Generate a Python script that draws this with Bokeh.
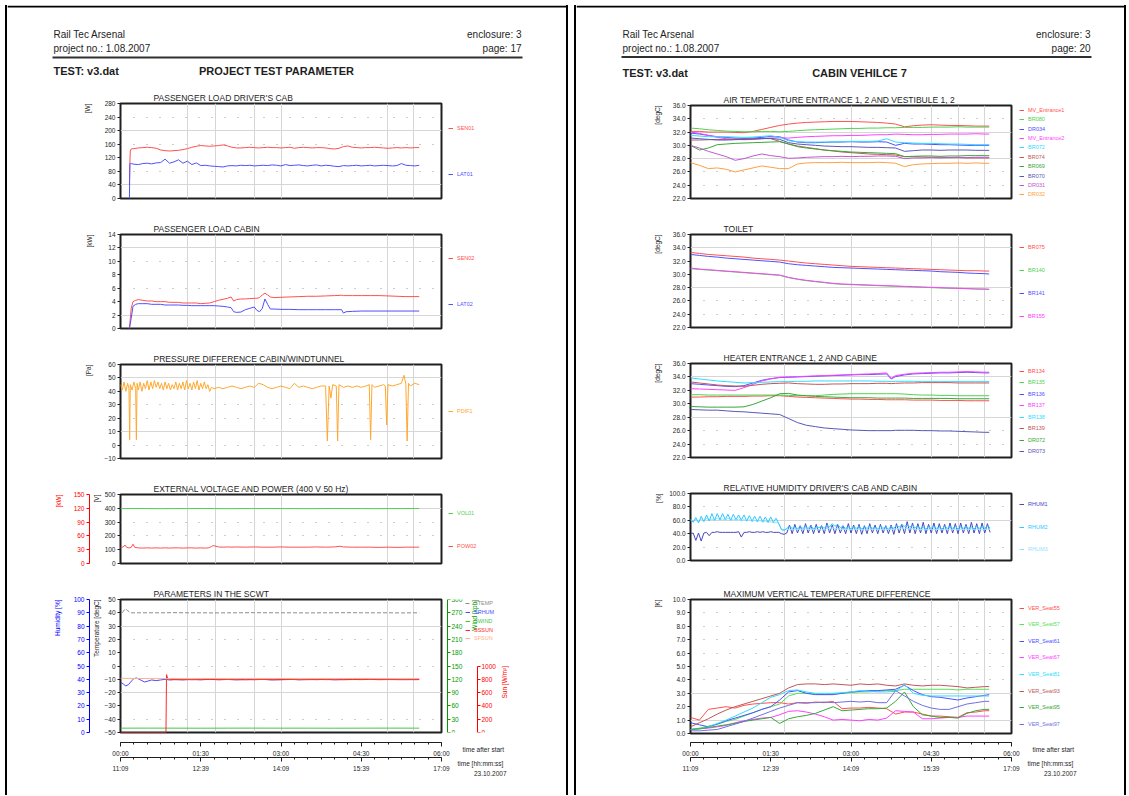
import math
from bokeh.plotting import figure
from bokeh.models import (Range1d, LinearAxis, FixedTicker, Grid, Legend, LegendItem,
                          Label, Div, PrintfTickFormatter, Spacer, Title, BoxAnnotation)
from bokeh.layouts import row, column
from bokeh.embed import file_html
from bokeh.resources import INLINE
from bokeh.core.properties import value

FONT = "Liberation Sans"
INK = "#1e1e1e"
NAN = float("nan")

# ---------------- texts ----------------
COMPANY = "Rail Tec Arsenal"
PROJECT = "project no.: 1.08.2007"
ENCLOSURE = "enclosure: 3"
PAGE_L = "page: 17"
PAGE_R = "page: 20"
TEST = "TEST: v3.dat"
HEAD_L = "PROJECT TEST PARAMETER"
HEAD_R = "CABIN VEHILCE 7"
TIME_AFTER = ["00:00", "01:30", "03:00", "04:30", "06:00"]
TIME_CLOCK = ["11:09", "12:39", "14:09", "15:39", "17:09"]
TICK_MIN = [0, 90, 180, 270, 360]
DATE = "23.10.2007"

# ---------------- left page data (time in minutes after start) ----------------
T_DRV = [10, 10.5, 11, 12, 15, 20, 25, 30, 35, 40, 45, 50, 55, 60, 65, 70, 75, 80, 85, 90,
         95, 100, 105, 110, 115, 120, 125, 130, 135, 140, 145, 150, 155, 160, 165, 170, 175,
         180, 185, 190, 195, 200, 205, 210, 215, 220, 225, 230, 235, 240, 245, 250, 255, 260,
         265, 270, 275, 280, 285, 290, 295, 300, 305, 310, 315, 320, 325, 330, 335]
SEN01 = [40, 105, 140, 146,
         147, 149, 150, 151, 150, 148,
         143, 141, 140, 141, 142, 144,
         147, 151, 154, 156, 155,
         154, 155, 156, 158, 155,
         151, 149, 149, 150,
         151, 150, 149, 150, 151, 150, 150, 149, 150, 151, 148, 150, 151, 150, 149, 150, 150, 149, 147, 146,
         148, 153, 155, 151, 150,
         149, 150, 150, 151, 150, 149, 148, 149, 150, 149, 150, 149, 150, 150]
LAT01 = [0, 100, 104, 103,
         101, 100, 103, 104, 102, 105,
         106, 116, 104, 108, 114, 104,
         110, 100, 105, 97, 98,
         96, 95, 94, 93, 96,
         97, 96, 98, 97,
         98, 96, 97, 98, 97, 99, 98, 96, 100, 97, 98, 99, 97, 96, 98, 99, 96, 98, 97, 95,
         94, 97, 96, 97, 98,
         96, 97, 98, 96, 97, 98, 97, 96, 97, 103, 98, 97, 96, 98]

T_CAB = [10, 12, 14, 17, 20, 25, 30, 35, 40, 45, 50, 55, 60, 65, 70, 75, 80, 85, 90, 95, 100,
         105, 110, 115, 120, 124, 127, 130, 135, 140, 145, 150, 153, 156, 159, 162, 165, 168,
         172, 180, 190, 200, 210, 220, 230, 240, 248, 250, 253, 260, 270, 280, 290, 300, 310,
         320, 335]
SEN02 = [0, 3.0, 4.0, 4.2,
         4.3, 4.2, 4.1, 4.1, 4.0, 4.0, 4.0, 3.9, 3.9, 3.9, 3.8, 3.8, 3.8, 3.8, 3.7, 3.75, 3.8, 4.0, 4.2, 4.35, 4.5,
         4.7, 4.1, 4.3,
         4.4, 4.4, 4.45, 4.5,
         4.5, 4.6, 5.0, 5.25, 5.0, 4.7, 4.6,
         4.65, 4.7, 4.75, 4.8, 4.8, 4.85, 4.9,
         4.95, 4.9, 4.9,
         4.9, 4.9, 4.9, 4.9, 4.85, 4.8, 4.75,
         4.75]
LAT02 = [0, 1.5, 3.3, 3.6,
         3.7, 3.7, 3.7, 3.6, 3.6, 3.6, 3.5, 3.5, 3.5, 3.5, 3.45, 3.45, 3.4, 3.4, 3.4, 3.4, 3.4, 3.4, 3.35, 3.3, 3.2,
         3.1, 2.5, 2.4,
         2.45, 2.8, 3.0, 3.2,
         2.7, 2.5, 3.0, 4.4, 3.6, 2.9, 2.9,
         2.85, 2.85, 2.8, 2.8, 2.8, 2.8, 2.8,
         2.8, 2.3, 2.5,
         2.55, 2.6, 2.6, 2.6, 2.6, 2.6, 2.6,
         2.6]

T_PDIF = [0, 2, 4, 6, 8, 9.5, 10.3, 11, 13, 15, 17, 17.8, 18.6,
          20, 22, 24, 26, 28, 30, 32, 34, 36, 38, 40, 42, 44, 46, 48, 50, 52, 54, 56, 58,
          60, 62, 64, 66, 68, 70, 72, 74, 76, 78, 80, 82, 84, 86, 88, 90, 92, 94, 96, 98, 100,
          102, 105,
          110, 115, 120, 125, 130, 135, 140, 145, 150, 155, 160, 165, 170, 175, 180, 185, 190,
          195, 200, 205, 210, 215, 220, 225, 230,
          232, 234, 236, 238, 242, 243.5, 245,
          250, 255, 260, 265, 270, 275,
          279, 280.5, 282, 285, 290, 295, 297, 298.5, 300, 305, 310, 315,
          318, 320, 321.5, 323, 325, 330, 335]
PDIF1 = [45, 41, 47, 40, 46, 42, 4, 45, 41, 47, 42, 4, 46,
         41, 47, 40, 46, 42, 48, 41, 47, 42, 48, 43, 47, 42, 46, 41, 47, 42, 46, 41, 45,
         42, 47, 41, 46, 42, 47, 41, 48, 42, 46, 41, 47, 42, 48, 41, 46, 42, 47, 42, 45, 40,
         43, 42,
         43, 42, 43, 44, 43, 42, 43, 44, 43, 46, 45, 43, 42, 43, 44, 43, 42,
         46, 43, 44, 43, 42, 43, 44, 44,
         3, 44, 35, 45, 44, 3, 45,
         43, 44, 43, 44, 43, 44,
         45, 4, 45, 43, 44, 45, 44, 15, 45, 44, 45, 46,
         52, 45, 3, 46, 44, 46, 45]

T_VOL = [0, 15, 30, 45, 60, 75, 90, 105, 120, 135, 150, 165, 180, 195, 210, 225, 240, 255,
         270, 285, 300, 315, 330, 335]
VOL01 = [398, 399, 398, 397, 398, 398, 399, 398, 397, 398, 398, 399, 398, 398, 397, 398,
         399, 398, 398, 397, 398, 398, 399, 398]

T_POW = [0, 3, 5, 7, 10, 12, 14, 16, 20, 25, 30, 35, 40, 45, 50, 55, 60, 65, 70, 75, 80, 85,
         90, 95, 99, 102, 104, 106, 110, 115, 120, 125, 130, 140, 150, 160, 170, 180, 190,
         200, 210, 220, 230, 240, 246, 250, 260, 270, 280, 290, 300, 310, 320, 335]
POW02 = [35, 36, 40, 35, 34, 35, 42, 35,
         34, 33.5, 34, 33.5, 34, 33.5, 34, 33.5, 34, 34, 33.5, 34, 34, 33.5, 34, 33.5,
         34, 37, 39, 38,
         36, 35.5, 36, 35.5, 36,
         35.5, 36, 35.5, 35.5, 36, 35.5, 35.5, 35.5, 36, 35.5, 36,
         37.5, 36,
         35.5, 35.5, 35.5, 35, 35.5, 35, 35.5,
         35.5]

T_STEMP = [2, 4, 6, 8, 12, 20, 30, 45, 60, 75, 90, 105, 120, 135, 150, 165, 180, 195, 210,
           225, 240, 255, 270, 285, 300, 315, 330, 335]
STEMP = [40, 42, 43, 41.5, 40, 40,
         40, 40, 40.1, 40, 40, 39.9, 40, 40, 40.1, 40, 40, 40, 39.9, 40, 40, 40.1, 40, 40, 40, 39.9, 40,
         40]

T_SRHUM = [0, 3, 6, 9, 12, 15, 18, 21, 24, 27, 30, 35, 40, 45, 50, 55, 60, 70, 80, 90, 100,
           110, 120, 130, 140, 150, 160, 170, 180, 190, 200, 210, 220, 230, 240, 250, 260,
           270, 280, 290, 300, 310, 320, 330, 335]
SRHUM = [38, 36.5, 35, 36, 38.5, 40.5, 41, 40, 39, 38, 38.5,
         39.5, 39, 39.5, 40, 39.5,
         39.8, 39.5, 40, 39.6, 40, 39.7, 39.9, 39.6, 40, 39.7,
         39.9, 39.5, 39.8, 40.1, 39.6, 39.9, 39.7, 40, 39.6, 39.9,
         39.8, 40.1, 40.2, 39.9, 40.1, 39.8, 39.7, 39.9,
         39.9]

T_SWIND = [0, 30, 60, 90, 120, 150, 180, 210, 240, 270, 300, 330, 335]
SWIND = [9.8, 9.9, 9.8, 9.7, 9.8, 9.9, 9.8, 9.8, 9.7, 9.8, 9.9, 9.8, 9.8]

T_SSSUN = [0, 51, 51.6, 53, 56, 60, 70, 80, 90, 100, 110, 120, 130, 140, 150, 160, 170, 180,
           190, 200, 210, 220, 230, 240, 250, 260, 270, 280, 290, 300, 310, 320, 330, 335]
SSSUN = [0, 0, 870, 810, 795,
         795, 798, 793, 796, 799, 794, 797, 795, 792, 796, 798, 795, 793, 797,
         796, 794, 798, 795, 796, 793, 797, 795, 799, 794, 796, 795, 797, 794,
         795]

T_SFSUN = [0, 20, 40, 60, 80, 100, 120, 140, 160, 180, 200, 220, 240, 260, 280, 300, 320, 335]
SFSUN = [815, 812, 810, 811, 809, 812, 810, 811, 810, 812, 809, 811, 810, 812, 811, 810, 809, 811]

# ---------------- right page data ----------------
T_R = [0, 10, 20, 30, 40, 50, 60, 70, 80, 90, 100, 110, 120, 130, 140, 150, 160, 170, 180,
       190, 200, 210, 220, 230, 240, 250, 260, 270, 280, 290, 300, 310, 320, 330, 335]

AIR_NAMES = ["MV_Entrance1", "BR080", "DR034", "MV_Entrance2", "BR072", "BR074", "BR069",
             "BR070", "DR031", "DR032"]
MV_ENTRANCE1 = [32.1, 32.1, 32.0, 32.0, 32.0, 31.95, 31.9, 32.1, 32.4, 32.7,
                33.0, 33.2, 33.35, 33.45, 33.5, 33.55, 33.6, 33.6, 33.6, 33.55,
                33.5, 33.45, 33.35, 33.2, 32.8, 32.95, 33.05, 33.1, 33.05, 33.0,
                33.0, 32.95, 32.9, 32.9, 32.9]
BR080 = [32.6, 32.5, 32.35, 32.25, 32.15, 32.1, 32.05, 32.05, 32.1, 32.1,
         32.05, 32.1, 32.2, 32.3, 32.35, 32.4, 32.45, 32.5, 32.55, 32.55,
         32.6, 32.6, 32.65, 32.65, 32.7, 32.7, 32.7, 32.75, 32.75, 32.75,
         32.8, 32.75, 32.75, 32.75, 32.75]
DR034 = [31.85, 31.7, 31.5, 31.3, 31.2, 31.1, 31.05, 31.1, 31.2, 31.35,
         31.3, 30.8, 30.5, 30.4, 30.4, 30.45, 30.5, 30.5, 30.55, 30.5,
         30.5, 30.55, 30.5, 30.0, 30.3, 30.2, 30.2, 30.15, 30.1, 30.1,
         30.05, 30.0, 30.0, 30.0, 30.0]
MV_ENTRANCE2 = [32.0, 31.8, 31.5, 31.2, 31.0, 30.9, 30.85, 30.9, 31.0, 31.1,
                31.15, 31.1, 31.2, 31.3, 31.35, 31.4, 31.45, 31.45, 31.5, 31.5,
                31.55, 31.6, 31.6, 31.7, 31.65, 31.6, 31.6, 31.65, 31.65, 31.7,
                31.7, 31.7, 31.75, 31.7, 31.7]
BR072 = [31.5, 31.4, 31.3, 31.3, 31.3, 31.25, 31.2, 31.25, 31.35, 31.45,
         31.2, 30.7, 30.55, 30.5, 30.5, 30.5, 30.5, 30.55, 30.6, 30.6,
         30.6, 30.65, 31.0, 30.5, 30.4, 30.35, 30.3, 30.3, 30.25, 30.2,
         30.2, 30.15, 30.1, 30.1, 30.1]
BR074 = [30.8, 30.8, 30.85, 30.9, 30.9, 30.95, 30.95, 31.0, 31.05, 31.0,
         30.6, 30.2, 29.9, 29.7, 29.5, 29.3, 29.15, 29.0, 28.9, 28.8,
         28.7, 28.65, 28.6, 28.55, 28.3, 28.3, 28.25, 28.2, 28.2, 28.15,
         28.15, 28.1, 28.1, 28.1, 28.1]
BR069 = [30.0, 29.3, 29.6, 30.1, 30.2, 30.3, 30.35, 30.4, 30.45, 30.5,
         30.55, 30.2, 29.8, 29.6, 29.45, 29.3, 29.2, 29.1, 29.0, 28.95,
         28.9, 28.85, 28.8, 28.75, 28.3, 28.35, 28.4, 28.4, 28.35, 28.4,
         28.4, 28.45, 28.45, 28.45, 28.45]
BR070 = [31.1, 31.0, 30.9, 30.8, 30.8, 30.85, 30.9, 30.95, 31.0, 31.05,
         30.9, 30.4, 30.2, 30.1, 30.0, 29.9, 29.85, 29.8, 29.8, 29.75,
         29.7, 29.7, 29.65, 29.6, 29.1, 29.2, 29.3, 29.3, 29.25, 29.3,
         29.3, 29.3, 29.25, 29.25, 29.25]
DR031 = [30.0, 29.6, 29.1, 28.7, 28.3, 27.75, 28.0, 28.4, 28.7, 28.45,
         28.3, 28.05, 28.1, 28.2, 28.25, 28.3, 28.3, 28.35, 28.3, 28.35,
         28.35, 28.4, 28.4, 28.35, 28.0, 28.1, 28.1, 28.15, 28.1, 28.15,
         28.2, 28.15, 28.2, 28.2, 28.2]
DR032 = [27.4, 27.0, 26.5, 26.6, 26.4, 26.0, 26.3, 26.6, 26.9, 26.7,
         26.5, 26.5, 27.2, 27.35, 27.4, 27.4, 27.4, 27.45, 27.4, 27.4,
         27.4, 27.45, 27.4, 27.3, 26.8, 27.1, 27.2, 27.25, 27.3, 27.3,
         27.35, 27.3, 27.35, 27.3, 27.3]

TOILET_NAMES = ["BR075", "BR140", "BR141", "BR155"]
BR075 = [33.3, 33.15, 33.0, 32.9, 32.8, 32.7, 32.6, 32.45, 32.35, 32.25,
         32.15, 32.0, 31.85, 31.7, 31.6, 31.5, 31.4, 31.3, 31.2, 31.15,
         31.1, 31.05, 31.0, 30.95, 30.9, 30.85, 30.8, 30.75, 30.7, 30.65,
         30.6, 30.55, 30.55, 30.5, 30.5]
BR140 = [30.85, 30.75, 30.65, 30.55, 30.45, 30.35, 30.25, 30.15, 30.05, 29.95,
         29.85, 29.5, 29.25, 29.05, 28.9, 28.75, 28.6, 28.5, 28.45, 28.4,
         28.35, 28.3, 28.25, 28.2, 28.15, 28.1, 28.05, 28.0, 27.95, 27.9,
         27.9, 27.85, 27.8, 27.75, 27.75]
BR141 = [33.0, 32.85, 32.7, 32.6, 32.45, 32.35, 32.25, 32.15, 32.05, 31.95,
         31.85, 31.6, 31.45, 31.35, 31.25, 31.15, 31.05, 31.0, 30.95, 30.9,
         30.85, 30.8, 30.75, 30.7, 30.65, 30.6, 30.55, 30.5, 30.4, 30.35,
         30.3, 30.2, 30.15, 30.1, 30.05]
BR155 = [30.95, 30.8, 30.7, 30.6, 30.5, 30.4, 30.3, 30.2, 30.1, 30.0,
         29.9, 29.55, 29.3, 29.1, 28.95, 28.8, 28.65, 28.55, 28.5, 28.45,
         28.4, 28.35, 28.3, 28.25, 28.2, 28.15, 28.1, 28.05, 28.0, 27.95,
         27.9, 27.85, 27.8, 27.8, 27.75]

T_HEAT = [0, 10, 20, 30, 40, 50, 60, 70, 80, 90, 100, 110, 120, 130, 140, 150, 160, 170, 180,
          190, 200, 210, 220, 225, 230, 240, 250, 260, 270, 280, 290, 300, 310, 320, 330, 335]
HEAT_NAMES = ["BR134", "BR135", "BR136", "BR137", "BR138", "BR139", "DR072", "DR073"]
BR134 = [31.0, 31.0, 31.05, 31.05, 31.1, 31.1, 31.1, 31.15, 31.15, 31.2,
         31.2, 31.1, 31.0, 30.95, 30.9, 30.85, 30.8, 30.75, 30.7, 30.7,
         30.65, 30.65, 30.6, 30.6, 30.6, 30.6, 30.55, 30.55, 30.55, 30.5,
         30.5, 30.5, 30.45, 30.45, 30.45, 30.45]
BR135 = [31.35, 31.35, 31.3, 31.3, 31.3, 31.3, 31.3, 31.3, 31.3, 31.3,
         31.3, 31.25, 31.2, 31.2, 31.2, 31.3, 31.4, 31.45, 31.5, 31.5,
         31.5, 31.5, 31.5, 31.5, 31.5, 31.45, 31.35, 31.3, 31.3, 31.25,
         31.25, 31.2, 31.2, 31.2, 31.2, 31.2]
BR136 = [33.0, 32.9, 32.8, 32.7, 32.6, 32.55, 32.7, 33.1, 33.5, 33.75,
         33.9, 33.95, 34.0, 34.05, 34.1, 34.15, 34.2, 34.25, 34.3, 34.35,
         34.35, 34.4, 34.45, 33.7, 34.05, 34.3, 34.45, 34.5, 34.55, 34.6,
         34.6, 34.65, 34.7, 34.65, 34.6, 34.6]
BR137 = [32.25, 32.2, 32.15, 32.1, 32.05, 32.0, 32.4, 32.9, 33.4, 33.7,
         33.95, 34.0, 34.05, 34.1, 34.15, 34.2, 34.25, 34.3, 34.35, 34.4,
         34.45, 34.5, 34.6, 33.8, 34.2, 34.4, 34.55, 34.6, 34.65, 34.7,
         34.7, 34.75, 34.8, 34.75, 34.7, 34.7]
BR138 = [33.85, 33.7, 33.55, 33.4, 33.3, 33.2, 33.1, 33.15, 33.2, 33.25,
         33.3, 33.3, 33.35, 33.35, 33.4, 33.4, 33.4, 33.4, 33.4, 33.4,
         33.4, 33.35, 33.35, 33.3, 33.35, 33.35, 33.35, 33.3, 33.3, 33.3,
         33.3, 33.3, 33.3, 33.3, 33.3, 33.3]
BR139 = [33.25, 33.1, 32.95, 32.8, 32.7, 32.65, 32.6, 32.75, 32.9, 33.0,
         33.05, 33.1, 33.0, 32.95, 32.9, 32.9, 32.95, 32.95, 33.0, 33.0,
         33.0, 33.05, 33.05, 33.0, 33.05, 33.1, 33.1, 33.15, 33.15, 33.15,
         33.15, 33.1, 33.1, 33.1, 33.1, 33.1]
DR072 = [29.6, 29.55, 29.5, 29.5, 29.5, 29.5, 29.55, 29.9, 30.4, 30.9,
         31.5, 31.55, 31.3, 31.2, 31.1, 31.05, 31.0, 30.95, 30.9, 30.9,
         30.9, 30.85, 30.85, 30.85, 30.85, 30.85, 30.8, 30.8, 30.8, 30.8,
         30.8, 30.75, 30.75, 30.75, 30.75, 30.75]
DR073 = [29.15, 29.1, 29.05, 29.05, 28.95, 28.85, 28.8, 28.7, 28.6, 28.5,
         28.4, 27.8, 27.2, 26.8, 26.6, 26.4, 26.3, 26.2, 26.1, 26.05,
         26.0, 26.0, 26.0, 26.0, 26.05, 26.05, 26.05, 26.0, 26.0, 25.95,
         25.95, 25.9, 25.85, 25.8, 25.75, 25.75]

T_RH = [0, 3, 6, 9, 12, 15, 18, 21, 24, 27,
        30, 33, 36, 39, 42, 45, 48, 51, 54, 57,
        60, 63, 66, 69, 72, 75, 78, 81, 84, 87,
        90, 93, 96, 99, 102, 105, 108, 111, 114, 117,
        120, 123, 126, 129, 132, 135, 138, 141, 144, 147,
        150, 153, 156, 159, 162, 165, 168, 171, 174, 177,
        180, 183, 186, 189, 192, 195, 198, 201, 204, 207,
        210, 213, 216, 219, 222, 225, 228, 231, 234, 237,
        240, 243, 246, 249, 252, 255, 258, 261, 264, 267,
        270, 273, 276, 279, 282, 285, 288, 291, 294, 297,
        300, 303, 306, 309, 312, 315, 318, 321, 324, 327,
        330, 333, 336]
RH_NAMES = ["RHUM1", "RHUM2", "RHUM3"]
RHUM1 = [40, 41, 30, 41, 29, 41, 42, 37, 42, 42,
         43, 42, 42, 42, 42, 42, 42, 42, 43, 35,
         42, 42, 43, 42, 42, 43, 42, 43, 42, 42,
         43, 42, 42, 42, 40, 39, 41, 53, 40, 54,
         41, 52, 40, 55, 41, 53, 40, 54, 41, 52,
         40, 56, 41, 53, 40, 54, 41, 52, 40, 55,
         41, 53, 40, 54, 39, 52, 40, 55, 41, 53,
         40, 54, 41, 52, 40, 53, 39, 55, 41, 54,
         40, 58, 41, 56, 40, 55, 41, 57, 40, 54,
         41, 56, 40, 55, 41, 54, 40, 56, 41, 55,
         40, 56, 41, 54, 40, 57, 41, 55, 40, 56,
         41, 55, 42]
RHUM2 = [62, 57, 64, 56, 66, 58, 68, 59, 70, 60,
         70, 61, 70, 61, 69, 60, 69, 61, 68, 60,
         68, 59, 67, 59, 66, 58, 66, 58, 65, 57,
         65, 57, 63, 55, 46, 45, 48, 51, 48, 50,
         47, 51, 48, 50, 48, 52, 47, 50, 49, 51,
         48, 53, 50, 55, 51, 54, 49, 51, 48, 50,
         47, 50, 48, 51, 47, 50, 48, 51, 48, 50,
         47, 51, 48, 50, 47, 51, 48, 52, 50, 53,
         51, 53, 50, 52, 49, 51, 48, 50, 47, 50,
         48, 51, 48, 50, 47, 51, 48, 50, 48, 51,
         47, 50, 48, 51, 48, 50, 47, 51, 48, 50,
         48, 51, 49]
RHUM3 = [60, 59, 61, 58, 62, 59, 63, 60, 62, 60,
         63, 61, 62, 60, 63, 61, 62, 60, 62, 59,
         61, 59, 61, 58, 60, 58, 60, 57, 59, 57,
         58, 56, 57, 55, 47, 46, 46, 47, 46, 47,
         46, 47, 46, 48, 46, 47, 46, 47, 46, 47,
         46, 48, 47, 49, 47, 48, 46, 47, 46, 47,
         46, 47, 46, 47, 46, 47, 46, 47, 46, 47,
         46, 47, 46, 47, 46, 47, 46, 48, 47, 49,
         47, 48, 47, 48, 46, 47, 46, 47, 46, 47,
         46, 47, 46, 47, 46, 47, 46, 47, 46, 47,
         46, 47, 46, 47, 46, 47, 46, 47, 46, 47,
         46, 47, 46]

VER_NAMES = ["VER_Seat55", "VER_Seat57", "VER_Seat61", "VER_Seat67", "VER_Seat81",
             "VER_Seat93", "VER_Seat95", "VER_Seat97"]
SEAT55 = [1.2, 1.0, 1.8, 1.9, 2.0, 1.9, 2.1, 2.2, 2.25, 2.3,
          2.3, 2.2, 2.3, 2.25, 2.35, 2.3, 2.4, 1.85, 1.9, 1.9,
          1.95, 1.9, 1.85, 1.45, 1.6, 1.6, 1.45, 1.3, 1.3, 1.25,
          1.2, 1.55, 1.6, 1.7, 1.7]
SEAT57 = [0.3, 0.4, 0.55, 0.7, 0.9, 1.05, 1.3, 1.55, 1.8, 2.0,
          2.2, 2.8, 3.0, 3.0, 2.95, 2.9, 2.95, 3.0, 3.05, 3.1,
          3.1, 3.15, 3.2, 3.2, 3.3, 3.3, 3.3, 3.3, 3.3, 3.3,
          3.25, 3.3, 3.3, 3.3, 3.3]
SEAT61 = [0.8, 0.65, 0.5, 0.7, 0.95, 1.15, 1.35, 1.55, 1.8, 2.0,
          2.5, 3.1, 3.2, 3.0, 2.9, 2.9, 2.9, 3.0, 3.1, 3.15,
          3.2, 3.2, 3.25, 3.3, 3.6, 3.2, 2.9, 2.75, 2.7, 2.6,
          2.5, 2.65, 2.75, 2.85, 2.9]
SEAT67 = [0.3, 0.35, 0.4, 0.5, 0.6, 0.8, 0.95, 1.05, 1.15, 1.2,
          1.4, 1.65, 1.7, 1.6, 1.45, 1.25, 1.0, 1.05, 1.0, 0.95,
          1.05, 1.0, 1.15, 1.7, 1.65, 1.6, 1.1, 1.1, 1.15, 1.2,
          1.2, 1.3, 1.3, 1.3, 1.3]
SEAT81 = [0.3, 0.35, 0.5, 0.75, 1.0, 1.3, 1.6, 1.9, 2.3, 2.7,
          2.9, 3.2, 3.25, 3.1, 3.0, 3.0, 3.0, 3.05, 3.1, 3.2,
          3.15, 3.1, 3.1, 3.15, 3.65, 3.0, 2.85, 2.8, 2.8, 2.8,
          2.8, 2.8, 2.8, 2.8, 2.8]
SEAT93 = [0.5, 0.8, 1.1, 1.45, 1.75, 2.0, 2.2, 2.4, 2.6, 2.8,
          3.0, 3.4, 3.65, 3.7, 3.7, 3.65, 3.7, 3.65, 3.6, 3.7,
          3.65, 3.7, 3.6, 3.55, 3.7, 3.6, 3.55, 3.6, 3.6, 3.55,
          3.5, 3.4, 3.45, 3.5, 3.5]
SEAT95 = [0.3, 0.35, 0.45, 0.55, 0.65, 0.75, 0.9, 1.0, 1.1, 1.2,
          0.75, 1.1, 1.25, 1.35, 1.5, 1.75, 2.0, 1.7, 1.75, 1.8,
          1.85, 1.85, 1.9, 2.4, 3.1, 2.0, 1.4, 1.3, 1.2, 1.2,
          1.15, 1.5, 1.7, 1.8, 1.8]
SEAT97 = [0.2, 0.2, 0.25, 0.3, 0.5, 0.7, 0.9, 1.15, 1.4, 1.65,
          1.9, 2.1, 2.3, 2.3, 2.3, 2.35, 2.3, 2.35, 2.4, 2.35,
          2.4, 2.3, 2.3, 3.2, 2.8, 2.4, 2.1, 1.9, 1.8, 1.8,
          2.0, 2.2, 2.3, 2.4, 2.4]

# ---------------- colours ----------------
RED = "#ff5050"
BLUE = "#5050ff"
GREEN = "#4fd24f"
MAGENTA = "#ff40ff"
CYAN = "#2fdcff"
BROWN = "#c05858"
GREEN2 = "#38a838"
SLATE = "#5858b8"
PURPLE = "#c058d0"
ORANGE = "#ffa040"

# ---------------- geometry (window pixels) ----------------
K = 321 / 360.0            # pixels per minute on the time axis
LX0, LX1 = 7, 566          # left page content
RX0, RX1 = 576, 1124       # right page content
LFL, LFR = 120, 441        # left page chart frames
RFL, RFR = 690, 1011       # right page chart frames
VX_L = [75, 106, 150, 180, 299, 329]
VX_R = [105, 180, 270, 300, 330]


def base_fig(width, height, xr, yr, **kw):
    p = figure(width=width, height=height, x_range=xr, y_range=yr,
               x_axis_type=None, y_axis_type=None, toolbar_location=None,
               output_backend="svg", **kw)
    p.background_fill_color = "white"
    p.border_fill_color = "white"
    return p


def make_chart(x0, fl, fr, band, frame_y, ylim, title):
    bt, bb = band
    ft, fb = frame_y
    p = base_fig(fr + 2 - x0, bb - bt, Range1d(0, 360), Range1d(*ylim),
                 min_border_left=fl - x0, min_border_right=2,
                 min_border_top=ft - bt, min_border_bottom=bb - fb, title=title)
    p.outline_line_color = "#202020"
    p.outline_line_width = 2
    t = p.title
    t.text_font = FONT
    t.text_font_size = "8.5px"
    t.text_font_style = "normal"
    t.text_color = INK
    t.align = "left"
    t.offset = 33
    t.standoff = 1
    return p


def side_fig(x0, x1, band, frame_y):
    # same top/bottom borders as the chart beside it, frame in window pixels
    bt, bb = band
    ft, fb = frame_y
    p = base_fig(x1 - x0, bb - bt, Range1d(x0, x1), Range1d(fb, ft), title_location=None,
                 min_border_left=0, min_border_right=0,
                 min_border_top=ft - bt, min_border_bottom=bb - fb)
    p.outline_line_color = None
    return p


def grids(p, xs, ys, yd):
    p.add_layout(Grid(dimension=0, ticker=FixedTicker(ticks=xs), grid_line_color="#d6d6d6"))
    p.add_layout(Grid(dimension=1, ticker=FixedTicker(ticks=ys), grid_line_color="#d6d6d6"))
    p.add_layout(Grid(dimension=1, ticker=FixedTicker(ticks=yd), grid_line_color="#9a9a9a",
                      grid_line_dash="1 12"))


def style_axis(ax, color, tick_standoff=2):
    ax.major_tick_line_color = color
    ax.major_tick_out = 3
    ax.major_tick_in = 0
    ax.minor_tick_line_color = None
    ax.major_label_text_font = FONT
    ax.major_label_text_font_size = "6.5px"
    ax.major_label_text_color = color
    ax.major_label_standoff = tick_standoff


def y_axis(p, ticks, unit, color=INK, rng="default", line=False, fmt=None, unit_standoff=16):
    ax = LinearAxis(y_range_name=rng, ticker=FixedTicker(ticks=list(ticks)))
    if fmt:
        ax.formatter = PrintfTickFormatter(format=fmt)
    ax.axis_line_color = color if line else None
    style_axis(ax, color)
    p.add_layout(ax, "left")
    p.add_layout(Title(text=unit, align="right", offset=0, standoff=unit_standoff,
                       vertical_align="bottom", text_font=FONT, text_font_size="6.5px",
                       text_font_style="normal", text_color=color), "left")


def fixed_y_axis(p, rng, loc, ticks, bounds, color):
    ax = LinearAxis(y_range_name=rng, fixed_location=loc, bounds=bounds,
                    ticker=FixedTicker(ticks=list(ticks)))
    ax.axis_line_color = color
    style_axis(ax, color, tick_standoff=1)
    p.add_layout(ax, "right")


def series(p, t, v, color, dash="solid", rng="default", width=1):
    n = min(len(t), len(v))
    return p.line(x=t[:n], y=v[:n], line_color=color, line_width=width, line_dash=dash,
                  y_range_name=rng)


def side_legend(s, x0, fb, name, color, x_abs, y_abs, dash="solid"):
    # legend key only: a placeholder line without visible points carries the style
    r = s.line(x=[NAN], y=[NAN], line_color=color, line_width=1, line_dash=dash)
    leg = Legend(items=[LegendItem(label=name, renderers=[r])],
                 location=(x_abs - x0, fb - y_abs - 3),
                 orientation="vertical", padding=0, margin=0, spacing=0,
                 glyph_width=5, glyph_height=6, label_height=6, label_width=10,
                 label_standoff=4, label_text_font=FONT, label_text_font_size="5.5px",
                 label_text_color=color, background_fill_alpha=0, border_line_alpha=0)
    s.add_layout(leg)


def text_label(p, text, x, y, align="left", color=INK, size="6.5px", angle=0):
    p.add_layout(Label(x=x, y=y, text=text, text_align=align, text_baseline="middle",
                       text_font=FONT, text_font_size=size, text_color=color, angle=angle))


def time_strip(x0, x1, fl, fr, y0, y1):
    p = base_fig(x1 - x0, y1 - y0, Range1d((x0 - fl) / K, (x1 - fl) / K), Range1d(y1, y0),
                 title_location=None, min_border_left=0, min_border_right=0,
                 min_border_top=0, min_border_bottom=0)
    p.outline_line_color = None
    for loc, labels in ((742, TIME_AFTER), (757, TIME_CLOCK)):
        ax = LinearAxis(fixed_location=loc, bounds=(0, 360),
                        ticker=FixedTicker(ticks=TICK_MIN, minor_ticks=list(range(0, 361, 15))),
                        major_label_overrides=dict(zip(TICK_MIN, labels)))
        ax.axis_line_color = INK
        ax.major_tick_line_color = INK
        ax.minor_tick_line_color = INK
        ax.major_tick_out = 4
        ax.major_tick_in = 0
        ax.minor_tick_out = 2
        ax.minor_tick_in = 0
        ax.major_label_standoff = 3
        ax.major_label_text_font = FONT
        ax.major_label_text_font_size = "6.5px"
        ax.major_label_text_color = INK
        p.add_layout(ax, "below")
    text_label(p, "time after start", (fr + 21 - fl) / K, 749)
    text_label(p, "time [hh:mm:ss]", (fr + 16 - fl) / K, 763.3)
    text_label(p, DATE, (fr + 65 - fl) / K, 772.7, align="right")
    return p


def header_fig(x0, x1, rule_l, rule_r, rule_y, page_txt, head, head_x, test_y):
    p = base_fig(x1 - x0, 83, Range1d(x0, x1), Range1d(88, 5), title_location=None,
                 min_border_left=0, min_border_right=0, min_border_top=0, min_border_bottom=0)
    p.outline_line_color = None
    p.add_layout(BoxAnnotation(left=x0, right=x1, top=5, bottom=7, fill_color="black",
                               fill_alpha=1, line_color=None))
    p.add_layout(BoxAnnotation(left=rule_l, right=rule_r, top=rule_y - 1, bottom=rule_y + 1,
                               fill_color="#303030", fill_alpha=1, line_color=None))
    p.text(x=[rule_l + 1, rule_l + 1], y=[34, 48], text=[COMPANY, PROJECT],
           text_font=value(FONT), text_font_size="10px", text_color=INK,
           text_baseline="middle", text_align="left")
    p.text(x=[rule_r - 1, rule_r - 1], y=[34, 48], text=[ENCLOSURE, page_txt],
           text_font=value(FONT), text_font_size="10px", text_color=INK,
           text_baseline="middle", text_align="right")
    p.text(x=[rule_l + 1], y=[test_y], text=[TEST], text_font=value(FONT),
           text_font_size="11px", text_font_style="bold", text_color=INK,
           text_baseline="middle", text_align="left")
    p.text(x=[head_x], y=[test_y], text=[head], text_font=value(FONT),
           text_font_size="11px", text_font_style="bold", text_color=INK,
           text_baseline="middle", text_align="center")
    return p


# ======================= LEFT PAGE =======================
hdr_l = header_fig(LX0, LX1, 52, 522, 57, PAGE_L, HEAD_L, 276, 70.7)
LS0 = LFR + 2

# chart 1
B1, F1 = (88, 220), (103, 198)
l1 = make_chart(LX0, LFL, LFR, B1, F1, (0, 280), "PASSENGER LOAD DRIVER'S CAB")
grids(l1, VX_L, [200, 40], [240, 160, 80])
y_axis(l1, range(0, 281, 40), "[W]", unit_standoff=21)
series(l1, T_DRV, SEN01, RED)
series(l1, T_DRV, LAT01, BLUE)
s1 = side_fig(LS0, LX1, B1, F1)
side_legend(s1, LS0, F1[1], "SEN01", RED, 448, 127.7)
side_legend(s1, LS0, F1[1], "LAT01", BLUE, 448, 174)

# chart 2
B2, F2 = (220, 350), (234, 328)
l2 = make_chart(LX0, LFL, LFR, B2, F2, (0, 14), "PASSENGER LOAD CABIN")
grids(l2, VX_L, [12, 2], [10, 6])
y_axis(l2, range(0, 15, 2), "[kW]", unit_standoff=25)
series(l2, T_CAB, SEN02, RED)
series(l2, T_CAB, LAT02, BLUE)
s2 = side_fig(LS0, LX1, B2, F2)
side_legend(s2, LS0, F2[1], "SEN02", RED, 448, 257.7)
side_legend(s2, LS0, F2[1], "LAT02", BLUE, 448, 304)

# chart 3
B3, F3 = (350, 480), (364, 458)
l3 = make_chart(LX0, LFL, LFR, B3, F3, (-10, 60), "PRESSURE DIFFERENCE CABIN/WINDTUNNEL")
grids(l3, VX_L, [50, 10], [30, 20, 0])
y_axis(l3, range(-10, 61, 10), "[Pa]", unit_standoff=20)
series(l3, T_PDIF, PDIF1, "#ffa830")
s3 = side_fig(LS0, LX1, B3, F3)
side_legend(s3, LS0, F3[1], "PDIF1", "#ffa830", 448, 411)

# chart 4
B4, F4 = (480, 585), (494, 563)
l4 = make_chart(LX0, LFL, LFR, B4, F4, (0, 500), "EXTERNAL VOLTAGE AND POWER (400 V 50 Hz)")
l4.extra_y_ranges = {"kw": Range1d(0, 150)}
grids(l4, VX_L, [400], [300, 200])
y_axis(l4, range(0, 501, 100), "[V]", unit_standoff=3)
y_axis(l4, range(0, 151, 30), "[kW]", color="#ff0000", rng="kw", line=True, unit_standoff=18)
series(l4, T_VOL, VOL01, GREEN)
series(l4, T_POW, POW02, RED, rng="kw")
s4 = side_fig(LS0, LX1, B4, F4)
side_legend(s4, LS0, F4[1], "VOL01", GREEN, 448, 512.7)
side_legend(s4, LS0, F4[1], "POW02", RED, 448, 546)

# chart 5
B5, F5 = (585, 741), (599, 732)
l5 = make_chart(LX0, LFL, LFR, B5, F5, (-50, 50), "PARAMETERS IN THE SCWT")
l5.extra_y_ranges = {"hum": Range1d(0, 100), "wind": Range1d(0, 300), "sun": Range1d(0, 2000)}
grids(l5, VX_L, [30, -20], [20, 0, -40])
y_axis(l5, range(-50, 51, 10), "Temperature [degC]", unit_standoff=3)
y_axis(l5, range(0, 101, 10), "Humidity [%]", color="#0000ff", rng="hum", line=True, unit_standoff=20)
scwt = [
    ("STEMP", T_STEMP, STEMP, "#8c8c8c", "4 2", "default"),
    ("SRHUM", T_SRHUM, SRHUM, "#4a4aff", "solid", "hum"),
    ("SWIND", T_SWIND, SWIND, "#44c844", "solid", "wind"),
    ("SSSUN", T_SSSUN, SSSUN, "#ff2a2a", "solid", "sun"),
    ("SFSUN", T_SFSUN, SFSUN, "#ffb08a", "solid", "sun"),
]
for name, t, v, col, dash, rng in scwt:
    series(l5, t, v, col, dash=dash, rng=rng)
s5 = side_fig(LS0, LX1, B5, F5)
s5.extra_y_ranges = {"wind": Range1d(0, 300), "sun": Range1d(0, 2000)}
fixed_y_axis(s5, "wind", 447, range(0, 301, 30), (0, 300), "#009a00")
fixed_y_axis(s5, "sun", 477, range(0, 1001, 200), (0, 1000), "#ff0000")
text_label(s5, "Wind [kph]", 473.5, 599.5, align="right", color="#009a00", angle=math.pi / 2)
text_label(s5, "Sun [W/m\u00b2]", 503.5, 665.5, align="right", color="#ff0000", angle=math.pi / 2)
for i, (name, t, v, col, dash, rng) in enumerate(scwt):
    side_legend(s5, LS0, F5[1], name, col, 465, 603.3 + i * 8.75, dash=dash)
strip_l = time_strip(LX0, LX1, LFL, LFR, 741, 795)

# ======================= RIGHT PAGE =======================
hdr_r = header_fig(RX0, RX1, 621, 1091, 56.5, PAGE_R, HEAD_R, 859, 72.7)
RS0 = RFR + 2

G1, H1 = (88, 220), (105, 198)
q1 = make_chart(RX0, RFL, RFR, G1, H1, (22, 36), "AIR TEMPERATURE ENTRANCE 1, 2 AND VESTIBULE 1, 2")
grids(q1, VX_R, [32, 28], [34, 26, 24])
y_axis(q1, range(22, 37, 2), "[degC]", fmt="%.1f", unit_standoff=17)
air = [MV_ENTRANCE1, BR080, DR034, MV_ENTRANCE2, BR072, BR074, BR069, BR070, DR031, DR032]
air_cols = [RED, GREEN, BLUE, MAGENTA, CYAN, BROWN, GREEN2, SLATE, PURPLE, ORANGE]
t1 = side_fig(RS0, RX1, G1, H1)
for i, (name, v, col) in enumerate(zip(AIR_NAMES, air, air_cols)):
    series(q1, T_R, v, col)
    side_legend(t1, RS0, H1[1], name, col, 1019, 110 + i * 9.37)

G2, H2 = (220, 350), (234, 327)
q2 = make_chart(RX0, RFL, RFR, G2, H2, (22, 36), "TOILET")
grids(q2, VX_R, [34, 28], [26, 24])
y_axis(q2, range(22, 37, 2), "[degC]", fmt="%.1f", unit_standoff=17)
toilet = [BR075, BR140, BR141, BR155]
toilet_cols = [RED, GREEN, BLUE, MAGENTA]
t2 = side_fig(RS0, RX1, G2, H2)
for i, (name, v, col) in enumerate(zip(TOILET_NAMES, toilet, toilet_cols)):
    series(q2, T_R, v, col)
    side_legend(t2, RS0, H2[1], name, col, 1019, 246.7 + i * 23.1)

G3, H3 = (350, 480), (363, 457)
q3 = make_chart(RX0, RFL, RFR, G3, H3, (22, 36), "HEATER ENTRANCE 1, 2 AND CABINE")
grids(q3, VX_R, [34, 28], [26, 24])
y_axis(q3, range(22, 37, 2), "[degC]", fmt="%.1f", unit_standoff=17)
heat = [BR134, BR135, BR136, BR137, BR138, BR139, DR072, DR073]
heat_cols = [RED, GREEN, BLUE, MAGENTA, CYAN, BROWN, GREEN2, SLATE]
t3 = side_fig(RS0, RX1, G3, H3)
for i, (name, v, col) in enumerate(zip(HEAT_NAMES, heat, heat_cols)):
    series(q3, T_HEAT, v, col)
    side_legend(t3, RS0, H3[1], name, col, 1019, 370.7 + i * 11.5)

G4, H4 = (480, 585), (493, 560)
q4 = make_chart(RX0, RFL, RFR, G4, H4, (0, 100), "RELATIVE HUMIDITY DRIVER'S CAB AND CABIN")
grids(q4, VX_R, [60], [80, 20])
y_axis(q4, range(0, 101, 20), "[%]", fmt="%.1f", unit_standoff=10)
rh_cols = ["#4848c0", "#2ec8ff", "#90e2ff"]
rh = [RHUM1, RHUM2, RHUM3]
for idx in (0, 2, 1):
    series(q4, T_RH, rh[idx], rh_cols[idx])
t4 = side_fig(RS0, RX1, G4, H4)
for i in range(3):
    side_legend(t4, RS0, H4[1], RH_NAMES[i], rh_cols[i], 1019, 504.3 + i * 22.5)

G5, H5 = (585, 741), (599, 733)
q5 = make_chart(RX0, RFL, RFR, G5, H5, (0, 10), "MAXIMUM VERTICAL TEMPERATURE DIFFERENCE")
grids(q5, VX_R, [3, 1], [9, 8, 7, 6, 5, 4])
y_axis(q5, range(0, 11, 1), "[K]", fmt="%.1f", unit_standoff=17)
ver = [SEAT55, SEAT57, SEAT61, SEAT67, SEAT81, SEAT93, SEAT95, SEAT97]
ver_cols = [RED, "#58e058", BLUE, MAGENTA, CYAN, BROWN, GREEN2, "#7070e0"]
t5 = side_fig(RS0, RX1, G5, H5)
for i, (name, v, col) in enumerate(zip(VER_NAMES, ver, ver_cols)):
    series(q5, T_R, v, col)
    side_legend(t5, RS0, H5[1], name, col, 1019, 607.5 + i * 16.66)
strip_r = time_strip(RX0, RX1, RFL, RFR, 741, 795)

# ======================= assembly =======================
H = 790


def vline():
    return Div(text="", width=2, height=H, margin=0, styles={"background-color": "black"})


left_page = column(hdr_l, row(l1, s1), row(l2, s2), row(l3, s3), row(l4, s4), row(l5, s5),
                   strip_l, spacing=0)
right_page = column(hdr_r, row(q1, t1), row(q2, t2), row(q3, t3), row(q4, t4), row(q5, t5),
                    strip_r, spacing=0)
root = column(Spacer(width=1126, height=5),
              row(Spacer(width=5, height=H), vline(), left_page, vline(), Spacer(width=6, height=H),
                  vline(), right_page, vline(), spacing=0),
              spacing=0)

open("out.html", "w").write(file_html(root, INLINE))
